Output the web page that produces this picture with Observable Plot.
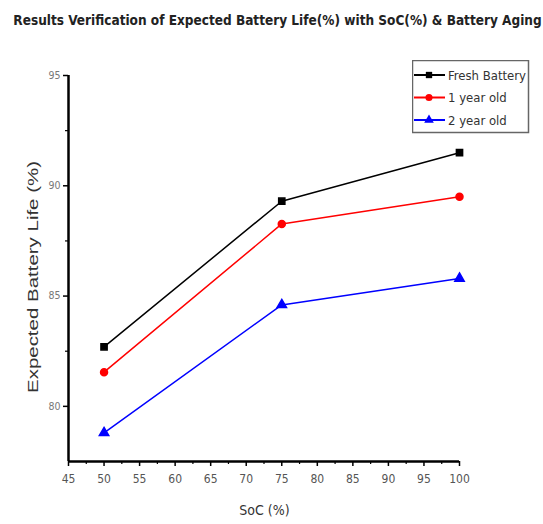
<!DOCTYPE html>
<html><head><meta charset="utf-8">
<script src="https://cdn.jsdelivr.net/npm/d3@7"></script>
<script src="https://cdn.jsdelivr.net/npm/@observablehq/plot@0.6"></script>
<style>
body{margin:0;background:#fff;width:543px;height:524px;overflow:hidden;position:relative;font-family:"Liberation Sans Narrow","DejaVu Sans Condensed","Liberation Sans",sans-serif;}
#title{height:44px;line-height:40px;text-align:center;font-weight:bold;font-size:13.5px;color:#222;white-space:nowrap;padding-left:12px;}
#legend{position:absolute;left:412px;top:60px;}
</style></head><body>
<div id="title">Results Verification of Expected Battery Life(%) with SoC(%) &amp; Battery Aging</div>
<div id="chart"></div>
<div id="legend"></div>
<script>
const soc = [50, 75, 100];
const seriesNames = ["Fresh Battery", "1 year old", "2 year old"];
const fresh = [82.7, 89.3, 91.5];
const oneYear = [81.55, 88.27, 89.5];
const twoYear = [78.8, 84.6, 85.8];
const colors = ["#000000", "#ff0000", "#0000ff"];
const symbols = ["square", "circle", "triangle"];
const xTicks = [45,50,55,60,65,70,75,80,85,90,95,100];
const xMinor = [47.5,52.5,57.5,62.5,67.5,72.5,77.5,82.5,87.5,92.5,97.5];
const yTicks = [80,85,90,95];
const yMinor = [82.5,87.5,92.5];
const xLabel = "SoC (%)";
const yLabel = "Expected Battery Life (%)";

const values = [fresh, oneYear, twoYear];
const data = [];
seriesNames.forEach((s, i) => soc.forEach((x, j) => data.push({series: s, soc: x, life: values[i][j]})));

const font = '"Liberation Sans Narrow","DejaVu Sans Condensed","Liberation Sans",sans-serif';
const chart = Plot.plot({
  width: 543, height: 480,
  marginTop: 31, marginBottom: 63, marginLeft: 68, marginRight: 84,
  style: {fontFamily: font, fontSize: "11px", background: "#fff"},
  x: {domain: [45, 100], label: null},
  y: {domain: [77.5, 95], label: null},
  color: {domain: seriesNames, range: colors},
  symbol: {domain: seriesNames, range: symbols},
  marks: [
    Plot.axisX({ticks: xTicks, tickSize: 5, tickPadding: 8, stroke: "#000", strokeWidth: 1.5, fill: "#555", label: null, fontSize: 12}),
    Plot.axisX({ticks: xMinor, tickSize: 3, text: null, stroke: "#000", strokeWidth: 1.2, label: null}),
    Plot.axisY({ticks: yTicks, tickSize: 5, tickPadding: 3, stroke: "#000", strokeWidth: 1.5, fill: "#777", label: null, fontSize: 10.5}),
    Plot.axisY({ticks: yMinor, tickSize: 3, text: null, stroke: "#000", strokeWidth: 1.2, label: null}),
    Plot.ruleX([45], {stroke: "#000", strokeWidth: 2.5}),
    Plot.ruleY([77.5], {stroke: "#000", strokeWidth: 2.5}),
    Plot.line(data, {x: "soc", y: "life", z: "series", stroke: "series", strokeWidth: 1.5}),
    Plot.dot(data, {x: "soc", y: "life", symbol: "series", fill: "series", stroke: "series", r: 3.5})
  ]
});
document.getElementById("chart").appendChild(chart);

// axis titles placed from the scales' ranges
const xs = chart.scale("x"), ys = chart.scale("y");
const sel = d3.select(chart);
const cy = (ys.range[0] + ys.range[1]) / 2;
const cx = (xs.range[0] + xs.range[1]) / 2;
sel.append("text").attr("transform", `translate(${xs.range[0] - 35},${cy + 9}) rotate(-90)`)
  .attr("text-anchor", "middle").attr("dy", "0.35em").attr("font-size", 15).attr("fill", "#333")
  .attr("font-family", '"Liberation Sans","DejaVu Sans",sans-serif')
  .attr("textLength", 232).attr("lengthAdjust", "spacingAndGlyphs").text(yLabel);
sel.append("text").attr("x", cx + 1).attr("y", ys.range[0] + 49).attr("dy", "0.35em")
  .attr("text-anchor", "middle").attr("font-size", 14).attr("fill", "#333").text(xLabel);

// legend
const lw = 116, lh = 72;
const svg = d3.select("#legend").append("svg").attr("width", lw + 2).attr("height", lh + 2);
svg.append("rect").attr("x", 0.5).attr("y", 0.5).attr("width", lw).attr("height", lh)
  .attr("fill", "#fff").attr("stroke", "#666").attr("stroke-width", 1.5);
const sym = [d3.symbolSquare, d3.symbolCircle, d3.symbolTriangle];
seriesNames.forEach((s, i) => {
  const y = 15 + i * 22.5;
  svg.append("line").attr("x1", 2).attr("x2", 33).attr("y1", y).attr("y2", y)
    .attr("stroke", colors[i]).attr("stroke-width", 2);
  svg.append("path").attr("d", d3.symbol(sym[i], 40)()).attr("transform", `translate(17,${y})`).attr("fill", colors[i]);
  svg.append("text").attr("x", 36).attr("y", y + 4.5).text(s)
    .attr("font-family", font).attr("font-size", 13).attr("fill", "#333");
});
</script>
</body></html>
